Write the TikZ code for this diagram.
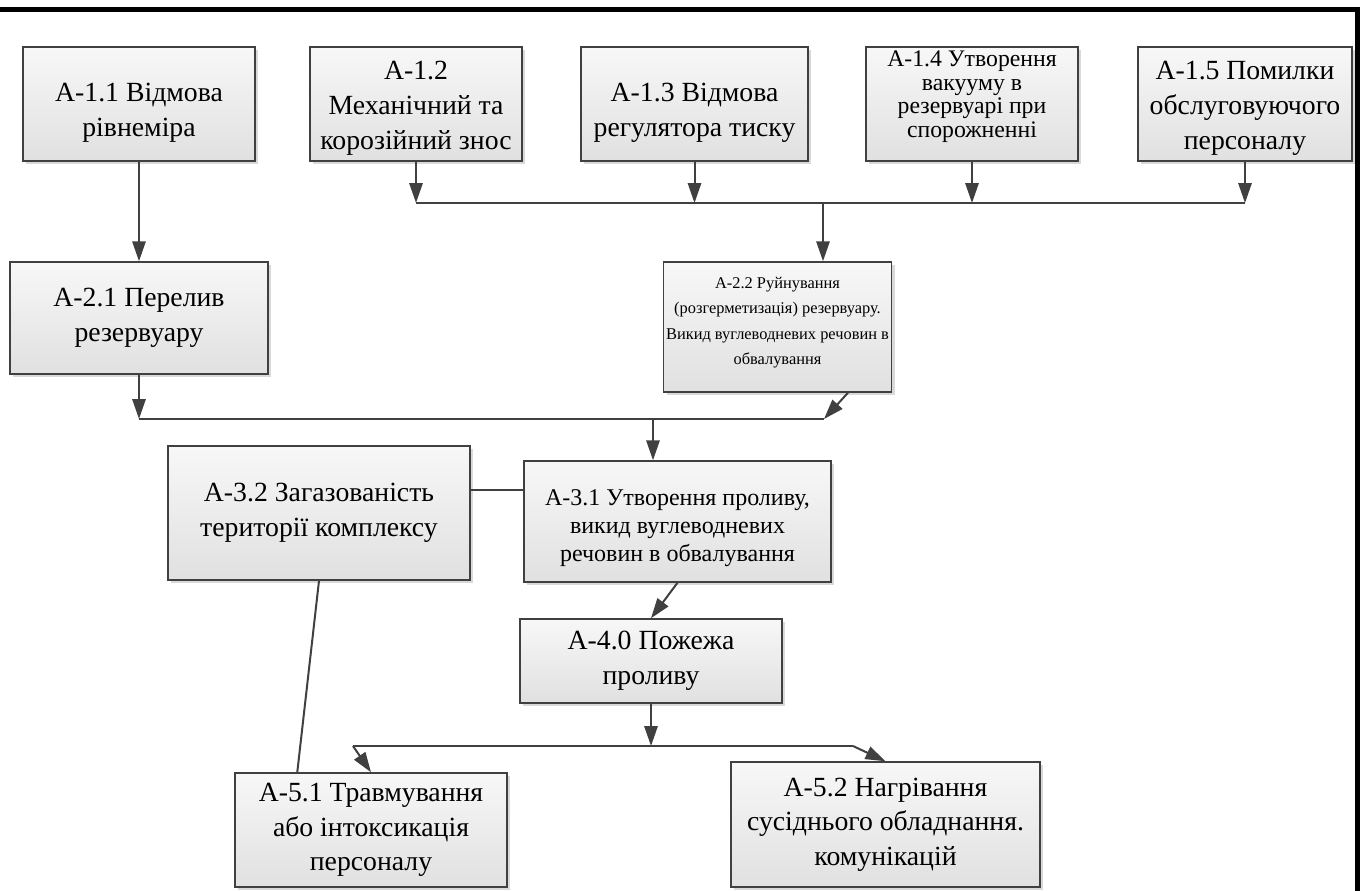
\documentclass[tikz,border=0pt]{standalone}
\usepackage{fontspec}
\setmainfont{Liberation Serif}
\usetikzlibrary{arrows.meta,shadows,calc}
\definecolor{liniya}{HTML}{404040}
\tikzset{rozmir/.style 2 args={minimum width=#1*0.75pt, minimum height=#2*0.75pt}}
\begin{document}
\begin{tikzpicture}[x=0.75pt, y=-0.75pt,
		blok/.style={draw=liniya, line width=1.1pt, top color=black!3, bottom color=black!12,
			drop shadow={shadow xshift=2.5pt, shadow yshift=-2.5pt, fill=black!15, opacity=1},
			align=center, inner sep=2pt, font=\fontsize{20.8}{26}\selectfont},
		strilka/.style={draw=liniya, line width=1.5pt, -{Triangle[length=15pt,width=10pt]}},
		zvyazok/.style={draw=liniya, line width=1.5pt}]
		\useasboundingbox (0,0) rectangle (1363,890);

		% Frame
		\draw[line width=3.75pt, line join=miter] (0,9.5) -- (1357.5,9.5) -- (1357.5,892);

		% Row 1
		\node[blok, rozmir={232}{114}] (a11) at (139,104) {\rule{0pt}{27pt}А-1.1 Відмова\\рівнеміра};
		\node[blok, rozmir={212}{114}] (a12) at (416,104) {\rule{0pt}{20pt}А-1.2\\Механічний та\\корозійний знос};
		\node[blok, rozmir={227}{114}] (a13) at (694.5,104) {\rule{0pt}{27pt}А-1.3 Відмова\\регулятора тиску};
		\node[blok, rozmir={212}{114}, font=\fontsize{17.8}{17.8}\selectfont] (a14) at (972,104)
			{А-1.4 Утворення\\вакууму в\\резервуарі при\\спорожненні\\[-3pt]\mbox{}};
		\node[blok, rozmir={214}{114}] (a15) at (1245,104) {\rule{0pt}{20pt}А-1.5 Помилки\\обслуговуючого\\персоналу};

		% Row 2
		\node[blok, rozmir={258}{112}] (a21) at (139,318) {А-2.1 Перелив\\резервуару};
		\node[blok, rozmir={225}{130}, font=\fontsize{12.3}{19}\selectfont] (a22) at (777.5,327)
			{А-2.2 Руйнування\\(розгерметизація) резервуару.\\Викид вуглеводневих речовин в\\обвалування\\[-10pt]\mbox{}};

		% Row 3
		\node[blok, rozmir={302}{134}] (a32) at (319,513) {А-3.2 Загазованість\\території комплексу};
		\node[blok, rozmir={307}{121}, font=\fontsize{18}{21}\selectfont] (a31) at (677.5,521.5)
			{\rule{0pt}{22pt}А-3.1 Утворення проливу,\\викид вуглеводневих\\речовин в обвалування};

		% Row 4
		\node[blok, rozmir={262}{84}] (a40) at (651,661) {А-4.0 Пожежа\\проливу};

		% Row 5
		\node[blok, rozmir={272}{114}] (a51) at (371,830) {А-5.1 Травмування\\або інтоксикація\\персоналу};
		\node[blok, rozmir={309}{125}] (a52) at (885.5,824.5) {А-5.2 Нагрівання\\сусіднього обладнання.\\комунікацій};

		% Bus lines
		\coordinate (s1) at (0,203);
		\coordinate (s3) at (0,746);
		\coordinate (v22) at (823,203);
		\coordinate (k2l) at (139,419);
		\coordinate (k2r) at (824,419);
		\coordinate (v31) at (653,419);
		\coordinate (k3l) at (353,746);
		\coordinate (k3r) at (853,746);
		\coordinate (h3) at (0,490);

		% Row 1 -> Row 2
		\draw[strilka] (a11) -- (a21);
		\foreach \n in {a12,a13,a14,a15}
			\draw[strilka] (\n.south) -- (\n.south |- s1);
		\draw[zvyazok] (a12.south |- s1) -- (a15.south |- s1);
		\draw[strilka] (v22) -- (v22 |- a22.north);

		% Row 2 -> Row 3
		\draw[strilka] (a21.south) -- (k2l);
		\draw[strilka] ($(a22.south)+(70.5,0)$) -- (k2r);
		\draw[zvyazok] (k2l) -- (k2r);
		\draw[strilka] (v31) -- (v31 |- a31.north);
		\draw[zvyazok] (a32.east |- h3) -- (a31.west |- h3);

		% Row 3 -> Row 5
		\draw[strilka] (a31.south) -- (a40.north);
		\draw[strilka] (a40.south) -- (a40.south |- s3);
		\draw[zvyazok] (k3l) -- (k3r);
		\draw[strilka] (k3l) -- (a51.north);
		\draw[strilka] (k3r) -- (a52.north);
		\draw[zvyazok] (a32.south) -- ($(a51.north west)+(63,0)$);
	\end{tikzpicture}
\end{document}
